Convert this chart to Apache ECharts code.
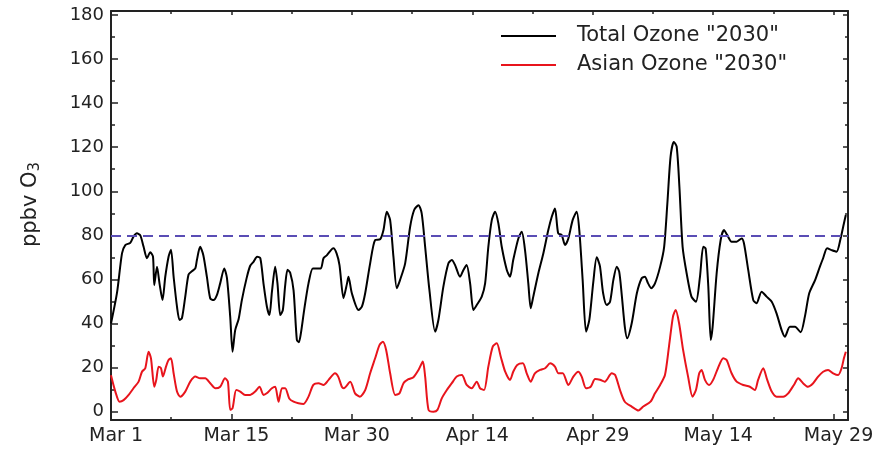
<!DOCTYPE html>
<html>
<head>
<meta charset="utf-8">
<script src="https://cdn.jsdelivr.net/npm/echarts@6/dist/echarts.min.js"></script>
<style>
  html, body { margin: 0; padding: 0; background: #ffffff; }
  #chart { width: 878px; height: 453px; }
</style>
</head>
<body>
<div id="chart"></div>
<script>
// Days since Mar 1 and ozone mixing ratio (ppbv) for the two model series
const totalDays = [
  0.0, 0.75, 1.37, 1.78, 2.4, 2.8, 3.23, 3.65, 4.06, 4.48, 4.89, 5.23, 5.39, 5.73, 6.05, 6.42, 6.76, 7.17, 7.47, 7.8,
  8.22, 8.54, 8.84, 9.25, 9.66, 10.08, 10.5, 10.7, 11.1, 11.5, 11.95, 12.36, 12.77, 13.2, 13.6, 14.1, 14.44, 14.85, 15.14, 15.47,
  15.9, 16.3, 16.9, 17.34, 17.75, 18.2, 18.6, 19.0, 19.42, 19.74, 20.04, 20.45, 20.74, 21.08, 21.4, 21.7, 21.99, 22.32, 22.74, 23.15,
  23.4, 23.65, 24.06, 24.6, 25.14, 25.64, 26.14, 26.47, 26.9, 27.4, 27.7, 28.1, 28.46, 28.96, 29.4, 29.58, 30.0, 30.83, 31.25, 31.66,
  32.28, 32.9, 33.52, 33.94, 34.35, 34.77, 35.18, 35.6, 36.0, 36.64, 37.26, 37.76, 38.3, 38.7, 39.13, 39.66, 40.37, 40.78, 41.4, 42.03,
  42.45, 42.86, 43.48, 43.9, 44.3, 44.73, 45.14, 45.56, 46.18, 46.6, 47.0, 47.43, 47.84, 48.25, 48.67, 49.3, 49.7, 50.1, 50.74, 51.16,
  51.57, 51.98, 52.28, 52.6, 53.23, 53.85, 54.47, 54.9, 55.3, 55.7, 56.14, 56.55, 56.97, 57.5, 58.0, 58.33, 58.75, 59.17, 59.58, 60.08,
  60.5, 60.9, 61.3, 61.75, 62.16, 62.57, 63.0, 63.3, 63.6, 64.0, 64.3, 64.86, 65.5, 66.1, 66.5, 66.9, 67.3, 67.76, 68.4, 68.9,
  69.3, 69.7, 70.1, 70.46, 70.8, 71.2, 71.7, 72.3, 72.86, 73.36, 73.77, 74.07, 74.4, 74.7, 74.94, 75.44, 75.94, 76.35, 76.76, 77.3,
  77.93, 78.55, 78.84, 79.37, 80.0, 80.4, 81.04, 81.66, 82.3, 82.9, 83.53, 83.94, 84.56, 85.2, 85.9, 86.43, 86.97, 87.7, 88.3, 88.7,
  89.2, 89.76, 90.38, 90.88, 91.29, 91.53
];
const totalOzone = [
  40, 54, 71.8, 75.6, 76.6, 79.4, 80.9, 80, 74.8, 69.6, 72.3, 70.3, 57.4, 65.8, 58, 50.6, 61.2, 70.3, 73.5, 61.2,
  47.6, 41.6, 42.5, 52.2, 62.2, 63.7, 65, 68.8, 74.8, 71, 61, 51.4, 50.6, 53, 58.2, 65, 60.7, 43, 27.2, 37,
  42, 50.6, 60.7, 66.2, 68, 70.3, 69.6, 58, 47.6, 43.8, 54.2, 65.8, 58, 43.8, 46, 57.4, 64.4, 63, 55, 32.5,
  31.5, 35.5, 46.1, 58.2, 65, 65, 65, 69.6, 71, 73.3, 74.1, 71.8, 66.5, 51.5, 58.2, 61.2, 53.7, 46.1, 47.6, 53.7,
  67.3, 77.9, 78.2, 82.4, 90.7, 86.9, 70.3, 56, 59.7, 67.3, 83.9, 91.5, 93.7, 90, 74.8, 55.2, 36.3, 41.6, 56.7, 67.3,
  68.8, 66.5, 61.2, 64.3, 66.5, 58.2, 46.1, 48.4, 52.2, 58.2, 74.8, 86.9, 90.7, 85.4, 74.8, 64.3, 61.2, 68.8, 78.6, 81.6,
  73.3, 58.2, 46.9, 52.2, 62.8, 71.8, 82.4, 88.4, 92.2, 80.9, 80.1, 75.6, 78.6, 86.9, 90.7, 82.4, 59.7, 36.3, 41.6, 59,
  70, 66, 53.7, 48.4, 49.9, 59.7, 65.8, 63.5, 53.7, 38.5, 33.3, 40.1, 53.7, 60.5, 61.2, 58.2, 56, 58.2, 65.8, 74.8,
  94.5, 115.7, 122.4, 120.2, 102, 74.8, 62.8, 52.2, 49.9, 61.2, 74.8, 74, 56.7, 32.5, 38.5, 62.8, 77.9, 82.4, 80.1, 77.1,
  77.1, 78.6, 76.4, 64.3, 50.6, 49.2, 54.4, 52.2, 49.9, 44.6, 37, 34, 38.5, 38.5, 36, 43.1, 53.7, 59.7, 65.8, 69.6,
  74.1, 73.3, 72.6, 78.6, 85.4, 89.2
];
const asianDays = [
  0.0, 0.54, 1.07, 1.57, 2.2, 2.8, 3.44, 3.86, 4.27, 4.68, 4.98, 5.39, 5.64, 5.93, 6.22, 6.47, 6.85, 7.17, 7.47, 7.8,
  8.22, 8.63, 9.25, 9.87, 10.5, 11.1, 11.74, 12.36, 13.0, 13.6, 14.2, 14.56, 14.85, 15.14, 15.6, 16.1, 16.7, 17.34, 17.96, 18.5,
  19.0, 19.4, 20.04, 20.45, 20.87, 21.3, 21.7, 22.2, 22.74, 23.35, 23.98, 24.6, 25.2, 25.85, 26.47, 27.1, 27.9, 28.3, 28.75, 29.0,
  29.8, 30.4, 31.0, 31.66, 32.28, 32.9, 33.44, 33.86, 34.27, 34.77, 35.4, 35.93, 36.43, 37.05, 37.67, 38.3, 38.84, 39.13, 39.55, 40.16,
  40.66, 41.2, 41.83, 42.45, 43.07, 43.7, 44.3, 44.94, 45.56, 45.97, 46.47, 47.0, 47.55, 48.05, 48.55, 49.1, 49.7, 50.1, 50.6, 51.3,
  51.78, 52.28, 52.8, 53.44, 54.07, 54.7, 55.3, 55.72, 56.27, 56.97, 57.59, 58.2, 58.63, 59.17, 59.75, 60.3, 60.9, 61.5, 62.37, 62.8,
  63.4, 64.0, 64.86, 65.7, 66.3, 67.2, 67.76, 68.4, 69.0, 69.5, 70.0, 70.34, 70.76, 71.26, 71.88, 72.43, 72.86, 73.27, 73.56, 73.98,
  74.5, 75.0, 75.6, 76.26, 76.68, 77.3, 77.93, 78.75, 79.58, 80.2, 80.6, 81.24, 81.74, 82.3, 82.9, 83.73, 84.35, 85.06, 85.6, 86.2,
  86.8, 87.46, 88.08, 88.7, 89.32, 89.95, 90.57, 91.0, 91.29, 91.53
];
const asianOzone = [
  16.5, 9.1, 4.5, 5.2, 7.6, 10.6, 13.6, 18.1, 19.7, 27.2, 24.2, 11.3, 14.4, 20.4, 19.7, 15.9, 20.4, 23.4, 24.2, 17.4,
  9.1, 6.8, 9.1, 13.6, 15.9, 15.1, 15.1, 12.9, 10.6, 11.3, 15.1, 13.6, 0.8, 1.5, 9.8, 9.1, 7.6, 7.6, 9.1, 11.3,
  7.6, 8.3, 10.6, 11.3, 4.5, 10.6, 10.6, 6, 4.5, 3.8, 3.5, 6.8, 12.1, 12.9, 12.1, 14.4, 17.4, 15.9, 11.3, 10.6,
  13.6, 8.3, 6.8, 9.8, 17.4, 24.2, 30.2, 31.7, 28, 17.4, 7.6, 8.3, 12.9, 14.7, 15.6, 18.9, 22.7, 15.9, 0.8, 0,
  0.8, 6, 9.8, 12.9, 15.9, 16.6, 12.1, 10.6, 13.6, 10.6, 9.8, 20.4, 29.5, 31, 24.9, 18.1, 14.4, 18.1, 21.2, 21.9,
  17.4, 13.6, 17.4, 18.9, 19.7, 21.9, 20.4, 17.4, 17.4, 12.1, 15.9, 18.1, 15.9, 10.6, 11.3, 14.8, 14.5, 13.6, 17.4, 16.6,
  9.8, 4.5, 2.3, 0.5, 2.3, 4.5, 8.3, 12.1, 16.6, 29.5, 43.1, 46.1, 40.1, 28, 15.9, 6.8, 9.8, 17.4, 18.9, 14.4,
  12.1, 14.4, 19.7, 24.2, 23.4, 17.4, 13.6, 12.1, 11.3, 9.8, 14.4, 19.7, 14.4, 9.1, 6.8, 6.8, 8.3, 12.1, 15.1, 12.9,
  11.3, 12.9, 15.9, 18.1, 18.9, 17.4, 16.6, 19.7, 24.2, 27.2
];
const seriesNames = ['Total Ozone "2030"', 'Asian Ozone "2030"'];
const thresholdValue = 80;

// Axis tick positions (days since Mar 1) and their date labels
const xMajorTicks = [0, 15, 30, 45, 60, 75, 90];
const xTickLabels = ['Mar 1', 'Mar 15', 'Mar 30', 'Apr 14', 'Apr 29', 'May 14', 'May 29'];
const xMinorTicks = [7.5, 22.5, 37.5, 52.5, 67.5, 82.5];
const yMajorTicks = [0, 20, 40, 60, 80, 100, 120, 140, 160, 180];
const yMinorTicks = [10, 30, 50, 70, 90, 110, 130, 150, 170];

const FONT = 'DejaVu Sans';
const INK = '#222222';
const X_RANGE = [0, 91.8];
const Y_RANGE = [-3.8, 181.8];

function pairs(xs, ys) { return xs.map((x, i) => [x, ys[i]]); }

// One side of the plot frame: an axis line (optional) with inward ticks
function frameAxis(kind, position, ticks, tickLen, showLine, labels) {
  const range = kind === 'x' ? X_RANGE : Y_RANGE;
  return {
    type: 'value',
    position: position,
    min: range[0],
    max: range[1],
    splitLine: { show: false },
    axisLine: { show: showLine, onZero: false, lineStyle: { color: INK, width: 2 } },
    axisTick: {
      show: true, inside: true, length: tickLen, customValues: ticks,
      lineStyle: { color: INK, width: 1.5 }
    },
    axisLabel: labels || { show: false }
  };
}

const chart = echarts.init(document.getElementById('chart'), null, { renderer: 'canvas' });

chart.setOption({
  animation: false,
  backgroundColor: '#ffffff',
  grid: { left: 111, right: 30, top: 11, bottom: 33, outerBoundsMode: 'none', containLabel: false },
  legend: {
    data: seriesNames,
    orient: 'vertical',
    left: 496,
    top: 19,
    icon: 'rect',
    itemWidth: 55,
    itemHeight: 2,
    itemGap: 5,
    textStyle: { fontFamily: FONT, fontSize: 21, lineHeight: 24, color: INK, padding: [0, 0, 0, 16] }
  },
  xAxis: [
    frameAxis('x', 'bottom', xMajorTicks, 6, true, {
      show: true,
      customValues: xMajorTicks,
      formatter: v => xTickLabels[xMajorTicks.indexOf(v)],
      fontFamily: FONT, fontSize: 19, color: INK, margin: 7,
      padding: [0, 0, 0, 10]
    }),
    frameAxis('x', 'bottom', xMinorTicks, 3, false),
    frameAxis('x', 'top', xMajorTicks, 4, true),
    frameAxis('x', 'top', xMinorTicks, 3, false)
  ],
  yAxis: [
    Object.assign(frameAxis('y', 'left', yMajorTicks, 7, true, {
      show: true,
      customValues: yMajorTicks,
      fontFamily: FONT, fontSize: 18, color: INK, margin: 7
    }), {
      name: '{m|ppbv O}{s|3}',
      nameLocation: 'middle',
      nameRotate: 90,
      nameGap: 68,
      nameTextStyle: {
        padding: [0, 0, 0, 22],
        rich: {
          m: { fontFamily: FONT, fontSize: 21, color: INK },
          s: { fontFamily: FONT, fontSize: 15, color: INK, padding: [10, 0, 0, 0] }
        }
      }
    }),
    frameAxis('y', 'left', yMinorTicks, 4, false),
    frameAxis('y', 'right', yMajorTicks, 5, true),
    frameAxis('y', 'right', yMinorTicks, 3, false)
  ],
  series: [
    {
      name: seriesNames[0],
      type: 'line',
      xAxisIndex: 0,
      yAxisIndex: 0,
      data: pairs(totalDays, totalOzone),
      symbol: 'none',
      smooth: 0.25,
      lineStyle: { color: '#000000', width: 2 },
      itemStyle: { color: '#000000' },
      z: 3,
      markLine: {
        silent: true,
        symbol: 'none',
        label: { show: false },
        lineStyle: { color: '#5a4db5', width: 2, type: [10, 6] },
        data: [{ yAxis: thresholdValue }]
      }
    },
    {
      name: seriesNames[1],
      type: 'line',
      xAxisIndex: 0,
      yAxisIndex: 0,
      data: pairs(asianDays, asianOzone),
      symbol: 'none',
      smooth: 0.25,
      lineStyle: { color: '#e8141c', width: 2 },
      itemStyle: { color: '#e8141c' },
      z: 2
    }
  ]
});
</script>
</body>
</html>
